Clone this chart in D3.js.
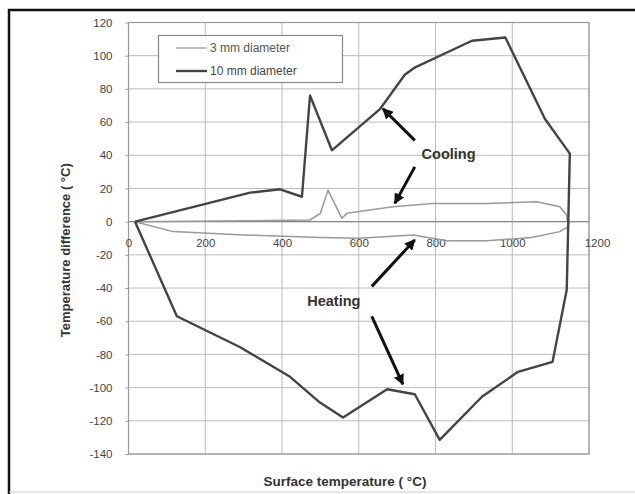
<!DOCTYPE html>
<html>
<head>
<meta charset="utf-8">
<script src="https://cdn.jsdelivr.net/npm/d3@7"></script>
<style>
  body { margin: 0; background: #fff; }
  svg text { font-family: "Liberation Sans", Arial, sans-serif; fill: #333; }
</style>
</head>
<body>
<div id="chart"></div>
<script>
// 10 mm diameter loop (heating lower branch, then cooling upper branch back)
var tenTemp = [17, 126, 290, 421, 499, 559, 674, 746, 811, 921, 1015, 1105, 1142, 1150, 1085, 982, 895, 747, 720, 656, 530, 473, 452, 395, 317, 17];
var tenDiff = [0, -57, -75.5, -93.5, -109, -118, -101, -104, -131.5, -105.5, -90.5, -84.5, -41, 41, 62, 111, 109, 93, 88.5, 68, 43, 76, 15, 19.5, 17.5, 0];

// 3 mm diameter loop
var threeTemp = [17, 116, 300, 500, 600, 742, 830, 934, 1050, 1124, 1143, 1150, 1143, 1142, 1124, 1064, 934, 794, 689, 569, 556, 520, 500, 473, 300, 17];
var threeDiff = [0, -6, -8, -9.5, -10, -8, -11.5, -11.5, -9.5, -6, -3.5, 0, 1, 4, 9, 12, 11, 11, 9, 5, 2, 19, 5, 1, 0.5, 0];

var xTicks = [0, 200, 400, 600, 800, 1000, 1200];
var yTicks = [120, 100, 80, 60, 40, 20, 0, -20, -40, -60, -80, -100, -120, -140];

// annotation arrows [tailT, tailD, headT, headD]
var coolArrows = [[746, 49, 663, 68], [746, 33, 694, 11]];
var heatArrows = [[634, -39, 746, -11], [634, -57, 715, -98]];

var W = 635, H = 494;
var plotL = 128.5, plotR = 589, plotT = 22.5, plotB = 454;

var svg = d3.select("#chart").append("svg").attr("width", W).attr("height", H);

// outer frame
svg.append("line").attr("x1", 9).attr("x2", 9).attr("y1", 9).attr("y2", H).attr("stroke", "#111").attr("stroke-width", 2.5);
svg.append("line").attr("x1", 8).attr("x2", W).attr("y1", 10).attr("y2", 10).attr("stroke", "#111").attr("stroke-width", 2.5);
svg.append("line").attr("x1", 9).attr("x2", W).attr("y1", 492).attr("y2", 492).attr("stroke", "#ccc").attr("stroke-width", 1);

var x = d3.scaleLinear().domain([0, 1200]).range([plotL, plotR]);
var y = d3.scaleLinear().domain([-140, 120]).range([plotB, plotT]);

// grid
svg.append("g").selectAll("line").data(xTicks).enter().append("line")
  .attr("x1", function(d) { return x(d); }).attr("x2", function(d) { return x(d); })
  .attr("y1", plotT).attr("y2", plotB)
  .attr("stroke", "#bbb").attr("stroke-width", 1);
svg.append("g").selectAll("line").data(yTicks).enter().append("line")
  .attr("x1", plotL).attr("x2", plotR)
  .attr("y1", function(d) { return y(d); }).attr("y2", function(d) { return y(d); })
  .attr("stroke", "#bbb").attr("stroke-width", 1);
svg.append("rect").attr("x", plotL).attr("y", plotT).attr("width", plotR - plotL).attr("height", plotB - plotT)
  .attr("fill", "none").attr("stroke", "#999").attr("stroke-width", 1.2);

// zero line slightly darker
svg.append("line").attr("x1", plotL).attr("x2", plotR).attr("y1", y(0)).attr("y2", y(0))
  .attr("stroke", "#888").attr("stroke-width", 1.2);

var fmt = function(d) { return String(d); };

// y axis
var yAxis = d3.axisLeft(y).tickValues(yTicks).tickSize(3).tickPadding(13).tickFormat(fmt);
var gy = svg.append("g").attr("transform", "translate(" + plotL + ",0)").call(yAxis);
gy.select(".domain").remove();
gy.selectAll("line").attr("stroke", "#999");
gy.selectAll("text").style("font-size", "11.5px").style("fill", "#444");

// x axis labels along zero line
var xAxis = d3.axisBottom(x).tickValues(xTicks).tickSize(0).tickPadding(17).tickFormat(fmt);
var gx = svg.append("g").attr("transform", "translate(0," + y(0) + ")").call(xAxis);
gx.select(".domain").remove();
gx.selectAll("text").style("font-size", "11.5px").style("fill", "#444");
gx.selectAll(".tick").filter(function(d) { return d === 1200; }).select("text").attr("dx", 8);

var line = d3.line().x(function(d) { return x(d[0]); }).y(function(d) { return y(d[1]); });

var three = threeTemp.map(function(t, i) { return [t, threeDiff[i]]; });
var ten = tenTemp.map(function(t, i) { return [t, tenDiff[i]]; });

svg.append("path").attr("d", line(three)).attr("fill", "none")
  .attr("stroke", "#999").attr("stroke-width", 1.5).attr("stroke-linejoin", "round");
svg.append("path").attr("d", line(ten)).attr("fill", "none")
  .attr("stroke", "#444").attr("stroke-width", 2.4).attr("stroke-linejoin", "round");

// legend
var lg = svg.append("g");
lg.append("rect").attr("x", 158.5).attr("y", 35.5).attr("width", 184).attr("height", 47)
  .attr("fill", "#fff").attr("stroke", "#888").attr("stroke-width", 1.2);
lg.append("line").attr("x1", 176).attr("x2", 207).attr("y1", 48).attr("y2", 48).attr("stroke", "#aaa").attr("stroke-width", 1.5);
lg.append("line").attr("x1", 176).attr("x2", 207).attr("y1", 71).attr("y2", 71).attr("stroke", "#444").attr("stroke-width", 2.4);
lg.append("text").attr("x", 210).attr("y", 52).text("3 mm diameter").style("font-size", "12px").style("fill", "#555");
lg.append("text").attr("x", 210).attr("y", 75).text("10 mm diameter").style("font-size", "12px").style("fill", "#444");

// arrows
svg.append("defs").append("marker").attr("id", "ah")
  .attr("viewBox", "0 0 10 10").attr("refX", 9).attr("refY", 5)
  .attr("markerWidth", 3.6).attr("markerHeight", 3.6).attr("orient", "auto")
  .append("path").attr("d", "M0,0 L10,5 L0,10 z").attr("fill", "#111");

svg.append("g").selectAll("line").data(coolArrows.concat(heatArrows)).enter().append("line")
  .attr("x1", function(d) { return x(d[0]); }).attr("y1", function(d) { return y(d[1]); })
  .attr("x2", function(d) { return x(d[2]); }).attr("y2", function(d) { return y(d[3]); })
  .attr("stroke", "#111").attr("stroke-width", 3).attr("marker-end", "url(#ah)");

svg.append("text").attr("x", x(834)).attr("y", y(41) + 5).attr("text-anchor", "middle")
  .text("Cooling").style("font-size", "14.5px").style("font-weight", "bold");
svg.append("text").attr("x", x(535)).attr("y", y(-48) + 5).attr("text-anchor", "middle")
  .text("Heating").style("font-size", "14.5px").style("font-weight", "bold");

// axis titles
svg.append("text").attr("transform", "translate(70," + ((plotT + plotB) / 2 + 12) + ") rotate(-90)")
  .attr("text-anchor", "middle").text("Temperature difference (  \u00B0C)")
  .style("font-size", "13px").style("font-weight", "bold");
svg.append("text").attr("x", 345).attr("y", 486).attr("text-anchor", "middle")
  .text("Surface temperature (   \u00B0C)")
  .style("font-size", "13.5px").style("font-weight", "bold");
</script>
</body>
</html>
